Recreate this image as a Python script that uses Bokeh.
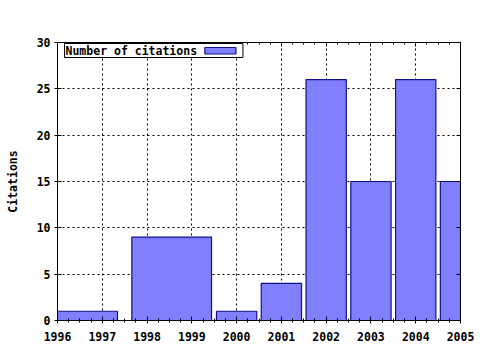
from bokeh.plotting import figure
from bokeh.models import (Range1d, FixedTicker, LinearAxis, BoxAnnotation, Label,
                          CustomJSTickFormatter)
from bokeh.embed import file_html
from bokeh.resources import INLINE

# ---- data ----
bar_centers = [1996.45, 1998.55, 2000, 2001, 2002, 2003, 2004, 2005]
bar_widths = [1.78, 1.78, 0.9, 0.9, 0.9, 0.9, 0.9, 0.9]
citations = [1, 9, 1, 4, 26, 15, 26, 15]
x_ticks = [1996, 1997, 1998, 1999, 2000, 2001, 2002, 2003, 2004, 2005]
y_ticks = [0, 5, 10, 15, 20, 25, 30]
series_name = "Number of citations"
y_title = "Citations"

FONT = "DejaVu Sans Mono"
FS = "11.5px"
FILL = "#8080ff"
EDGE = "#10108c"

x0, x1 = x_ticks[0], x_ticks[-1]
y0, y1 = y_ticks[0], y_ticks[-1]

p = figure(width=480, height=350, output_backend="svg", toolbar_location=None,
           x_range=Range1d(x0, x1), y_range=Range1d(y0, y1),
           min_border_left=57, min_border_right=20, min_border_top=42,
           min_border_bottom=30, background_fill_color="white",
           border_fill_color="white", outline_line_color="black")

minor_x = [x0 + i * 0.25 for i in range(int((x1 - x0) * 4) + 1)]
xt = FixedTicker(ticks=x_ticks, minor_ticks=minor_x)
yt = FixedTicker(ticks=y_ticks)

def style_axis(ax, labels=True):
    ax.axis_line_color = "black"
    ax.major_tick_line_color = "black"
    ax.minor_tick_line_color = "black"
    ax.major_tick_in = 4
    ax.major_tick_out = 3
    ax.minor_tick_in = 2
    ax.minor_tick_out = 2
    ax.major_label_text_font = FONT
    ax.major_label_text_font_size = FS
    ax.major_label_text_font_style = "bold"
    ax.major_label_text_color = "black"
    if not labels:
        ax.formatter = CustomJSTickFormatter(code="return ''")

xa = p.xaxis[0]
xa.ticker = xt
style_axis(xa)
xa.major_label_standoff = 8

ya = p.yaxis[0]
ya.ticker = yt
style_axis(ya)
ya.minor_tick_line_color = None
ya.major_label_standoff = 4
ya.axis_label = y_title
ya.axis_label_text_font = FONT
ya.axis_label_text_font_size = FS
ya.axis_label_text_font_style = "bold"
ya.axis_label_text_color = "black"
ya.axis_label_standoff = 14

top_ax = LinearAxis(ticker=xt)
style_axis(top_ax, labels=False)
top_ax.major_tick_out = 0
top_ax.minor_tick_out = 0
top_ax.major_label_standoff = 0
p.add_layout(top_ax, "above")

right_ax = LinearAxis(ticker=yt)
style_axis(right_ax, labels=False)
right_ax.minor_tick_line_color = None
right_ax.major_tick_out = 0
right_ax.major_label_standoff = 0
p.add_layout(right_ax, "right")

p.xgrid.ticker = xt
p.ygrid.ticker = yt
for g in (p.xgrid[0], p.ygrid[0]):
    g.grid_line_color = "black"
    g.grid_line_dash = "2 3"
    g.grid_line_width = 1

p.vbar(x=bar_centers, width=bar_widths, top=citations, bottom=0,
       fill_color=FILL, line_color=EDGE, line_width=1.2)

# ---- legend (text then swatch, as in the reference) ----
dx = (x1 - x0) / 402.0
dy = (y1 - y0) / 278.0
lg_left, lg_right = x0 + 7 * dx, x0 + 185 * dx
lg_top, lg_bottom = y1 - 1 * dy, y1 - 15 * dy
p.add_layout(BoxAnnotation(left=lg_left, right=lg_right, bottom=lg_bottom, top=lg_top,
                           fill_color="white", fill_alpha=1.0,
                           line_color="black", line_width=1, line_alpha=1.0))
p.add_layout(Label(x=lg_left + 1 * dx, y=(lg_top + lg_bottom) / 2, text=series_name,
                   text_font=FONT, text_font_size=FS, text_font_style="bold",
                   text_baseline="middle", text_align="left", text_color="black"))
p.add_layout(BoxAnnotation(left=x0 + 147 * dx, right=x0 + 178 * dx,
                           bottom=y1 - 11.5 * dy, top=y1 - 5 * dy,
                           fill_color=FILL, fill_alpha=1.0,
                           line_color=EDGE, line_width=1.2, line_alpha=1.0))

open("out.html", "w").write(file_html(p, INLINE))
